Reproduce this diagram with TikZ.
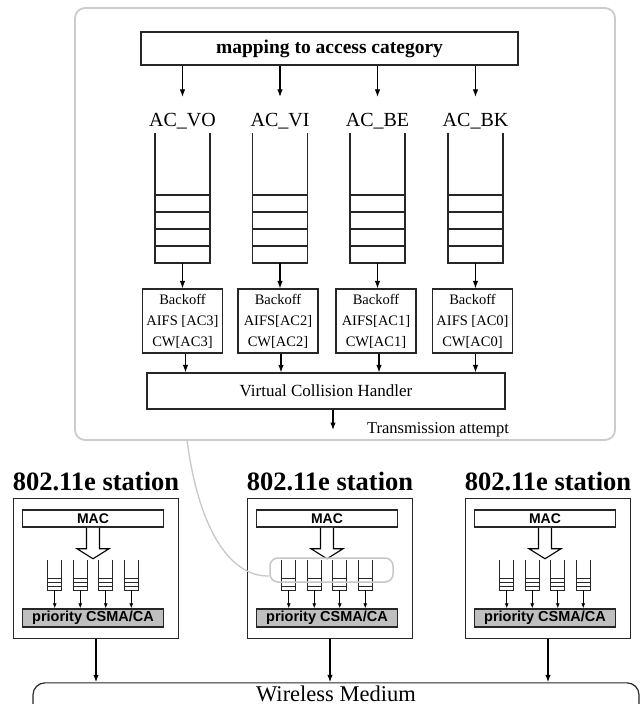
\documentclass[tikz,border=0pt]{standalone}
\usepackage{fontspec}
\setmainfont{Liberation Serif}
\setsansfont{Liberation Sans}
\usetikzlibrary{arrows.meta,positioning,calc}
\tikzset{
  linha/.style={draw=black!85, line width=1.1pt},
  painel/.style={rectangle, draw=black!20, line width=1.8pt, rounded corners=10pt,
                 minimum width=540pt, minimum height=432pt},
  caixa/.style={rectangle, draw=black!85, line width=1.2pt, inner sep=0pt},
  mapa/.style={caixa, minimum width=377pt, minimum height=33pt,
               font=\fontsize{19.5}{21}\selectfont\bfseries},
  rotulo/.style={inner sep=1pt, font=\fontsize{20}{22}\selectfont},
  backoff/.style={caixa, minimum width=80pt, minimum height=64pt, align=center,
                  font=\fontsize{14.5}{21}\selectfont},
  colisao/.style={caixa, minimum width=358pt, minimum height=36pt,
                  font=\fontsize{17}{19}\selectfont},
  estacao/.style={rectangle, draw=black!85, line width=1.8pt,
                  minimum width=165pt, minimum height=140pt},
  titulo/.style={inner sep=1pt, font=\fontsize{26.5}{28}\selectfont\bfseries},
  mac/.style={caixa, line width=1.5pt, minimum width=141pt, minimum height=17pt,
              font=\sffamily\bfseries\fontsize{14}{15}\selectfont},
  prio/.style={mac, fill=black!25, minimum height=18pt,
               font=\sffamily\bfseries\fontsize{14.5}{15}\selectfont},
  realce/.style={rectangle, draw=black!22, line width=1.5pt, rounded corners=8pt,
                 minimum width=123pt, minimum height=24pt},
  meio/.style={rectangle, draw=black!85, line width=1.2pt, rounded corners=12pt,
               minimum width=606pt, minimum height=38pt, text depth=16pt,
               font=\fontsize{22.5}{24}\selectfont},
  seta/.style={-{Latex[length=7.5pt,width=5.5pt]}, line width=1.1pt},
  setinha/.style={-{Latex[length=5pt,width=4pt]}, line width=0.8pt},
  ligacao/.style={draw=black!22, line width=1.3pt},
  fila/.pic={
    \draw[linha] (-27.5,-65) -- (-27.5,65) -- (27.5,65) -- (27.5,-65);
    \foreach \v in {-3,14,31,48} \draw[linha] (-27.5,\v) -- (27.5,\v);
    \coordinate (-base) at (0,65);
  },
  filinha/.pic={
    \draw[linha, line width=0.9pt] (-7,-15) -- (-7,15) -- (7,15) -- (7,-15);
    \foreach \v in {3,7,11} \draw[linha, line width=0.8pt] (-7,\v) -- (7,\v);
    \coordinate (-base) at (0,15);
  },
  setaoca/.pic={
    \draw[line width=1.1pt, fill=white] (-6.5,0) -- (-6.5,21) -- (-16,21) -- (0,31)
      -- (16,21) -- (6.5,21) -- (6.5,0);
  },
}
\begin{document}
\begin{tikzpicture}[x=1pt,y=-1pt]
  \useasboundingbox (0,0) rectangle (643,704);
  % painel de detalhe (EDCA)
  \node[painel] (painel) at (345,224) {};
  \node[mapa] (map) at (329.5,48.5) {mapping to access category};
  \node[rotulo] (acvo) at (182.5,121) {AC\_VO};
  \node[rotulo] (acvi) at (280,121) {AC\_VI};
  \node[rotulo] (acbe) at (377.5,121) {AC\_BE};
  \node[rotulo] (acbk) at (475.5,121) {AC\_BK};
  \foreach \a in {acvo,acvi,acbe,acbk}
    \draw[seta, shorten >=15pt] (map.south -| \a) -- (\a.north);
  \pic (qvo) at (182.5,198) {fila};
  \pic (qvi) at (280,198) {fila};
  \pic (qbe) at (377.5,198) {fila};
  \pic (qbk) at (475.5,198) {fila};
  \node[backoff] (bvo) at (182.5,321) {Backoff\\AIFS [AC3]\\CW[AC3]};
  \node[backoff] (bvi) at (278,321) {Backoff\\AIFS[AC2]\\CW[AC2]};
  \node[backoff] (bbe) at (376,321) {Backoff\\AIFS[AC1]\\CW[AC1]};
  \node[backoff] (bbk) at (472.5,321) {Backoff\\AIFS [AC0]\\CW[AC0]};
  \draw[seta] (qvo-base) -- (qvo-base |- bvo.north);
  \draw[seta] (qvi-base) -- (qvi-base |- bvi.north);
  \draw[seta] (qbe-base) -- (qbe-base |- bbe.north);
  \draw[seta] (qbk-base) -- (qbk-base |- bbk.north);
  \node[colisao] (vch) at (326,391) {Virtual Collision Handler};
  \foreach \b in {bvo,bvi,bbe,bbk}
    \draw[seta] ([xshift=3pt]\b.south) -- ([xshift=3pt]\b.south |- vch.north);
  \coordinate (tx) at (333,430);
  \draw[seta] (vch.south -| tx) -- (tx);
  \node[inner sep=1pt, font=\fontsize{16.5}{18}\selectfont] (tentativa) at (438,430) {Transmission attempt};
  % meio sem fio e estacoes
  \node[meio] (meio) at (336,702) {Wireless Medium};
  \foreach \c/\n in {93/1,327/2,545/3}{
    \node[estacao] (est\n) at (\c+3,568.5) {};
    \node[titulo] (tit\n) at (\c+3,481) {802.11e station};
    \node[mac] (mac\n) at (\c,518.5) {MAC};
    \pic at (mac\n.south) {setaoca};
    \node[prio] (prio\n) at (\c,618) {priority CSMA/CA};
    \foreach \k in {1,...,4}{
      \pic (f\n\k) at (\c+25.5*\k-63.75,575) {filinha};
      \draw[setinha] (f\n\k-base) -- (f\n\k-base |- prio\n.north);
    }
    \draw[seta] (est\n.south) -- (est\n.south |- meio.north);
  }
  % destaque das filas e ligacao ao painel
  \node[realce] (realce) at (331.5,570) {};
  \coordinate (elo) at (187,440);
  \draw[ligacao] (elo) .. controls (198,525) and (228,577) .. ([yshift=-6pt]realce.west);
\end{tikzpicture}
\end{document}
